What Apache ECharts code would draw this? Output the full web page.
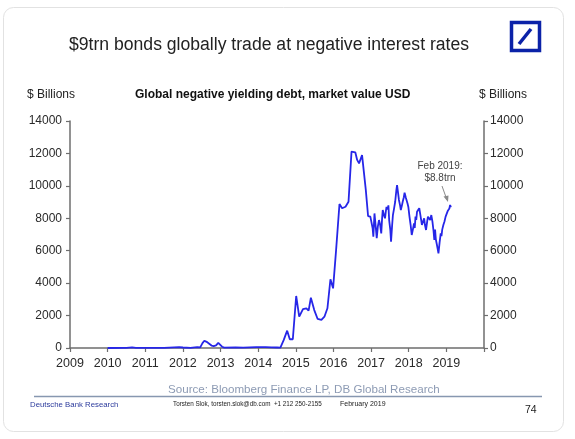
<!DOCTYPE html>
<html>
<head>
<meta charset="utf-8">
<script src="https://cdn.jsdelivr.net/npm/echarts@6/dist/echarts.min.js"></script>
<style>
html,body{margin:0;padding:0;background:#fff;}
#c{width:575px;height:439px;}
</style>
</head>
<body>
<div id="c"></div>
<script>
var years = [
2010.00,2010.50,2010.65,2010.75,2011.00,2011.50,2011.90,2012.00,2012.20,2012.38,2012.42,2012.46,2012.52,2012.57,2012.63,2012.69,2012.76,2012.82,2012.88,2012.94,2012.99,2013.04,2013.10,2013.40,2013.60,2013.95,2014.20,2014.35,2014.50,2014.59,
2014.68,2014.77,2014.84,2014.92,2015.01,2015.09,2015.19,2015.28,2015.34,2015.40,2015.49,2015.58,2015.68,2015.76,2015.84,2015.92,2015.99,2016.07,2016.16,2016.23,2016.32,2016.40,2016.48,2016.53,2016.58,2016.63,2016.68,2016.76,2016.86,2016.92,2016.98,
2017.02,2017.04,2017.06,2017.09,2017.11,2017.13,2017.15,2017.18,2017.21,2017.24,2017.27,2017.29,2017.31,2017.34,2017.37,2017.39,2017.41,2017.44,2017.46,2017.48,2017.51,2017.53,2017.56,2017.58,2017.61,2017.64,2017.67,2017.69,2017.72,2017.74,2017.77,2017.79,2017.82,2017.84,2017.87,2017.89,2017.92,2017.95,2017.97,2017.99,
2018.02,2018.05,2018.08,2018.11,2018.14,2018.16,2018.18,2018.20,2018.22,2018.25,2018.28,2018.31,2018.33,2018.35,2018.38,2018.41,2018.43,2018.46,2018.49,2018.51,2018.54,2018.57,2018.60,2018.63,2018.66,2018.68,2018.70,2018.72,2018.75,2018.77,2018.79,2018.82,2018.85,2018.87,2018.89,2018.92,2018.95,2018.98,2019.01,2019.04,2019.06,2019.08,2019.10,2019.12
];
var debtUSDbn = [
0,10,40,10,5,10,50,30,10,60,120,40,300,450,380,280,150,120,160,320,350,80,20,40,20,50,60,40,30,20,
500,1070,540,540,3210,1930,2400,2450,2300,3100,2340,1790,1730,1930,2450,4240,3680,6040,8880,8620,8710,9020,12110,12150,12070,11600,11390,11900,9740,8140,8100,
8000,7400,6860,8300,8200,7300,6770,7500,7890,7600,7070,7900,8510,8200,8000,8400,8700,8550,8800,7890,7300,6560,7600,8200,8600,9020,9700,10050,9500,9130,8800,8510,8800,9020,9300,9580,9300,9230,8900,8700,
8100,7600,6970,7300,7690,7400,8100,7900,8400,8300,8620,8200,7900,7590,7800,8000,7600,7280,7800,8100,8000,7890,8200,7790,7200,6660,7300,6700,6350,6100,5840,6500,7070,6900,7300,7590,7800,8100,8200,8470,8400,8600,8820,8680
];
var yTicks = [0,2000,4000,6000,8000,10000,12000,14000];
var xTickLabels = ['2009','2010','2011','2012','2013','2014','2015','2016','2017','2018','2019'];

var seriesData = years.map(function(y,i){return [y, debtUSDbn[i]];});
var F = '"Liberation Sans", Arial, sans-serif';
var axisCol = '#6e6e6e';

function yAxisDef(pos, margin){
  return {
    type:'value', position:pos, min:yTicks[0], max:yTicks[yTicks.length-1], interval:2000,
    axisLine:{show:true, lineStyle:{color:axisCol, width:1.5}},
    axisTick:{show:true, inside:false, length:4, lineStyle:{color:axisCol, width:1.2}},
    splitLine:{show:false},
    axisLabel:{color:'#2a2a2a', fontFamily:F, fontSize:12, margin:margin,
      formatter:function(v){return String(v);}}
  };
}

var chart = echarts.init(document.getElementById('c'), null, {renderer:'canvas'});
chart.setOption({
  backgroundColor:'#fff',
  animation:false,
  grid:{left:70, right:91, top:121, bottom:91, containLabel:false},
  xAxis:{
    type:'value', min:2009, max:2020, interval:1,
    axisLine:{show:true, onZero:false, lineStyle:{color:axisCol, width:1.5}},
    axisTick:{show:true, inside:false, length:4, lineStyle:{color:axisCol, width:1.2}},
    splitLine:{show:false},
    axisLabel:{color:'#2a2a2a', fontFamily:F, fontSize:12.5, margin:9,
      formatter:function(v){var i=Math.round(v-2009); return xTickLabels[i]!==undefined?xTickLabels[i]:'';}}
  },
  yAxis:[yAxisDef('left',8), yAxisDef('right',6)],
  series:[{
    type:'line', data:seriesData, yAxisIndex:0, showSymbol:false, symbol:'none',
    lineStyle:{color:'#2626e8', width:1.8}, z:5
  }],
  graphic:[
    {type:'rect', shape:{x:3.5, y:7.5, width:560, height:424, r:10}, style:{fill:null, stroke:'#e2e2e2', lineWidth:1}, z:-1},
    {type:'text', x:69, y:36, style:{text:'$9trn bonds globally trade at negative interest rates', font:'17.6px '+F, fill:'#222'}},
    {type:'rect', shape:{x:511.5, y:22.5, width:28, height:28}, style:{fill:'#fff', stroke:'#0b22a8', lineWidth:3.5}},
    {type:'line', shape:{x1:519, y1:44, x2:531, y2:29}, style:{stroke:'#0b22a8', lineWidth:3.5}},
    {type:'text', x:27, y:89, style:{text:'$ Billions', font:'12px '+F, fill:'#222'}},
    {type:'text', x:135, y:89, style:{text:'Global negative yielding debt, market value USD', font:'bold 12px '+F, fill:'#111'}},
    {type:'text', x:479, y:89, style:{text:'$ Billions', font:'12px '+F, fill:'#222'}},
    {type:'text', x:440, y:160, style:{text:'Feb 2019:\n$8.8trn', font:'10px '+F, fill:'#444', align:'center', lineHeight:12}},
    {type:'line', shape:{x1:442, y1:186, x2:447, y2:200}, style:{stroke:'#8a8a8a', lineWidth:1}},
    {type:'polygon', shape:{points:[[448,202],[443.5,196.5],[448.5,195.5]]}, style:{fill:'#8a8a8a'}},
    {type:'text', x:168, y:384, style:{text:'Source: Bloomberg Finance LP, DB Global Research', font:'11.6px '+F, fill:'#8d9bb4'}},
    {type:'line', shape:{x1:34, y1:396.5, x2:542, y2:396.5}, style:{stroke:'#8797b0', lineWidth:1.5}},
    {type:'text', x:30, y:401, style:{text:'Deutsche Bank Research', font:'7.8px '+F, fill:'#2b3a9c'}},
    {type:'text', x:173, y:401, style:{text:'Torsten Slok, torsten.slok@db.com  +1 212 250-2155', font:'6.3px '+F, fill:'#222'}},
    {type:'text', x:340, y:401, style:{text:'February 2019', font:'7px '+F, fill:'#222'}},
    {type:'text', x:525, y:405, style:{text:'74', font:'10.5px '+F, fill:'#222'}}
  ]
});
</script>
</body>
</html>
